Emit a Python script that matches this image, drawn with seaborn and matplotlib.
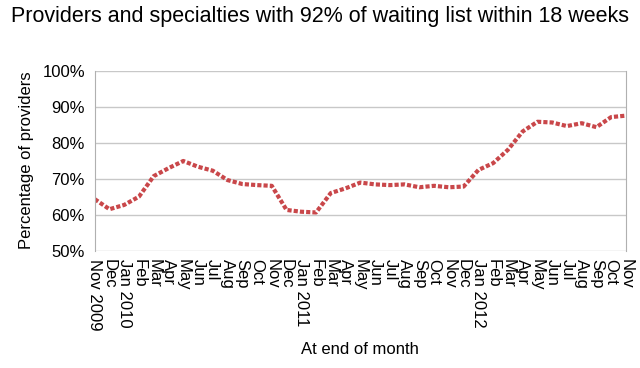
import pandas as pd
import seaborn as sns
import matplotlib.pyplot as plt
from matplotlib.ticker import PercentFormatter

months = ["Nov 2009", "Dec", "Jan 2010", "Feb", "Mar", "Apr", "May", "Jun", "Jul",
          "Aug", "Sep", "Oct", "Nov", "Dec", "Jan 2011", "Feb", "Mar", "Apr", "May",
          "Jun", "Jul", "Aug", "Sep", "Oct", "Nov", "Dec", "Jan 2012", "Feb", "Mar",
          "Apr", "May", "Jun", "Jul", "Aug", "Sep", "Oct", "Nov"]
pct_providers = [64.3, 61.5, 62.7, 65.0, 70.7, 72.9, 74.9, 73.3, 72.2, 69.6, 68.5,
                 68.2, 68.0, 61.3, 60.8, 60.6, 66.0, 67.3, 68.9, 68.4, 68.2, 68.4,
                 67.6, 68.0, 67.6, 67.8, 72.4, 74.3, 78.0, 83.1, 85.8, 85.6, 84.6,
                 85.4, 84.3, 87.1, 87.5]

df = pd.DataFrame({"pos": range(len(months)), "pct": pct_providers})

sns.set_style("white")
plt.rcParams['font.family'] = ['Liberation Sans', 'DejaVu Sans']
plt.rcParams['text.color'] = 'black'
plt.rcParams['axes.labelcolor'] = 'black'
plt.rcParams['xtick.labelcolor'] = 'black'
plt.rcParams['ytick.labelcolor'] = 'black'

fig = plt.figure(figsize=(6.4, 3.68), dpi=100)
ax = fig.add_axes([0.148, 0.319, 0.83, 0.489])

sns.lineplot(data=df, x="pos", y="pct", ax=ax, color="#c9474a", linewidth=3,
             linestyle=(0, (1, 0.5)), dash_capstyle="butt")

ax.set_xlim(0, len(months) - 1)
ax.set_ylim(50, 100)
ax.set_yticks(range(50, 101, 10))
ax.yaxis.set_major_formatter(PercentFormatter(decimals=0))
ax.set_xticks(range(len(months)))
ax.set_xticklabels(months, rotation=-90, fontsize=12)
ax.tick_params(axis="y", labelsize=12, length=4, color="#b0b0b0", pad=3)
ax.tick_params(axis="x", length=5, color="#b0b0b0", pad=1)
ax.grid(axis="y", color="#c8c8c8", linewidth=1)
for side in ["left", "right"]:
    ax.spines[side].set_color("#b0b0b0")
for side in ["top", "bottom"]:
    ax.spines[side].set_visible(False)

ax.set_xlabel("At end of month", fontsize=12, labelpad=8)
ax.set_ylabel("Percentage of providers", fontsize=12, labelpad=6)
fig.suptitle("Providers and specialties with 92% of waiting list within 18 weeks",
             fontsize=15.5, x=0.5, y=0.985)

fig.savefig("out.png", dpi=100)
